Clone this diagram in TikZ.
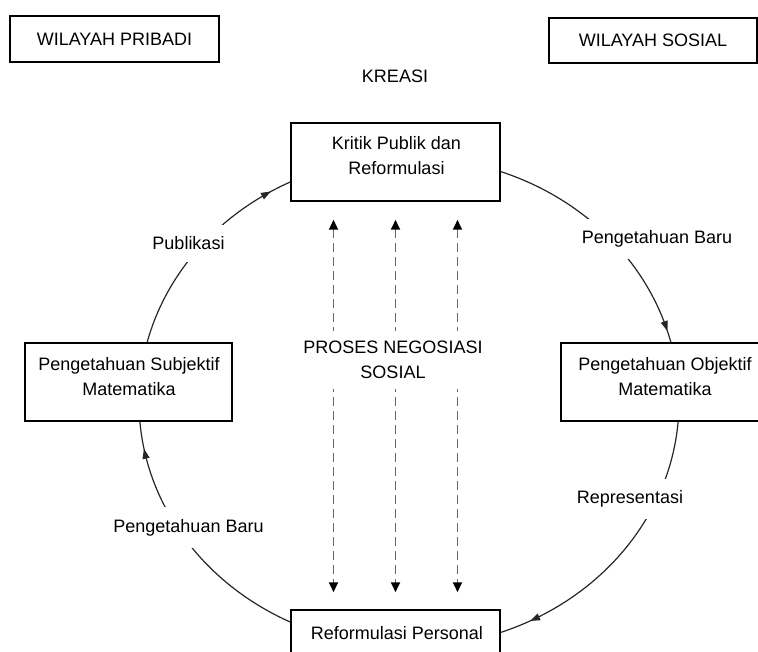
\documentclass[tikz,border=0pt]{standalone}
\usepackage{fontspec}
\setmainfont{Liberation Sans}
\usetikzlibrary{arrows.meta, calc, decorations.markings}

\begin{document}
\begin{tikzpicture}[x=1pt, y=-1pt, font=\fontsize{18}{25}\selectfont,
    box/.style={draw, line width=1.5pt, fill=white, inner sep=0pt, minimum height=78pt},
    txt/.style={align=center, inner sep=0pt},
    arclbl/.style={fill=white, inner xsep=2pt, inner ysep=12pt},
    flow/.style={line width=1.2pt, draw=black!85, postaction={decorate},
        decoration={markings, mark=at position #1 with {\arrow{Triangle[length=10pt, width=7pt]}}}},
    nego/.style={draw=black!60, line width=1.8pt, dash pattern=on 9pt off 5pt,
        >={Triangle[length=10pt, width=9pt, color=black]}, <->}]
\useasboundingbox (0,0) rectangle (758,652);

% wilayah
\node[box, minimum width=209pt, minimum height=46pt] (pribadi) at (114.5,39) {WILAYAH PRIBADI};
\node[box, minimum width=208pt, minimum height=45pt] (sosial) at (653,40.5) {WILAYAH SOSIAL};
\node[txt] (kreasi) at (395,76) {KREASI};

% siklus
\coordinate (ctr) at (409,402);
\coordinate (subjN) at ($(ctr)+(166.1:270pt and 245pt)$);
\coordinate (kritE) at ($(ctr)+(70.3:270pt and 245pt)$);
\coordinate (objkS) at ($(ctr)+(-4.45:270pt and 245pt)$);
\coordinate (refpW) at ($(ctr)+(244.1:270pt and 245pt)$);
\draw[flow=0.9] (subjN) arc[start angle=166.1, end angle=115.9, x radius=270pt, y radius=245pt];
\draw[flow=0.95] (kritE) arc[start angle=70.3, end angle=13.9, x radius=270pt, y radius=245pt];
\draw[flow=0.89] (objkS) arc[start angle=-4.45, end angle=-70.3, x radius=270pt, y radius=245pt];
\draw[flow=0.894] (refpW) arc[start angle=244.1, end angle=184.45, x radius=270pt, y radius=245pt];

\node[box, minimum width=209pt] (krit) at (395.5,162) {};
\node[txt] (kritT) at (396.5,156) {Kritik Publik dan\\Reformulasi};
\node[box, minimum width=207pt] (subj) at (128.5,382) {};
\node[txt] (subjT) at (129,376.2) {Pengetahuan Subjektif\\Matematika};
\node[box, minimum width=208pt] (objk) at (665,382) {};
\node[txt] (objkT) at (665,376.6) {Pengetahuan Objektif\\Matematika};
\node[box, minimum width=209pt] (refp) at (395.5,649) {};
\node[txt] (refpT) at (397,633) {Reformulasi Personal};

% negosiasi
\foreach \dx in {-62,0,62}
  \draw[nego] ([xshift=\dx*1pt, yshift=-18pt]krit.south) -- ([xshift=\dx*1pt, yshift=17pt]refp.north);
\node[txt, fill=white, inner xsep=4pt, inner ysep=10pt] (negoT) at (393,360) {PROSES NEGOSIASI\\SOSIAL};

% label busur
\node[arclbl] (pub) at (188.5,243.3) {Publikasi};
\node[arclbl] (pbR) at (657,239) {Pengetahuan Baru};
\node[arclbl] (rep) at (630,499) {Representasi};
\node[arclbl] (pbL) at (188.5,527.7) {Pengetahuan Baru};
\end{tikzpicture}
\end{document}
